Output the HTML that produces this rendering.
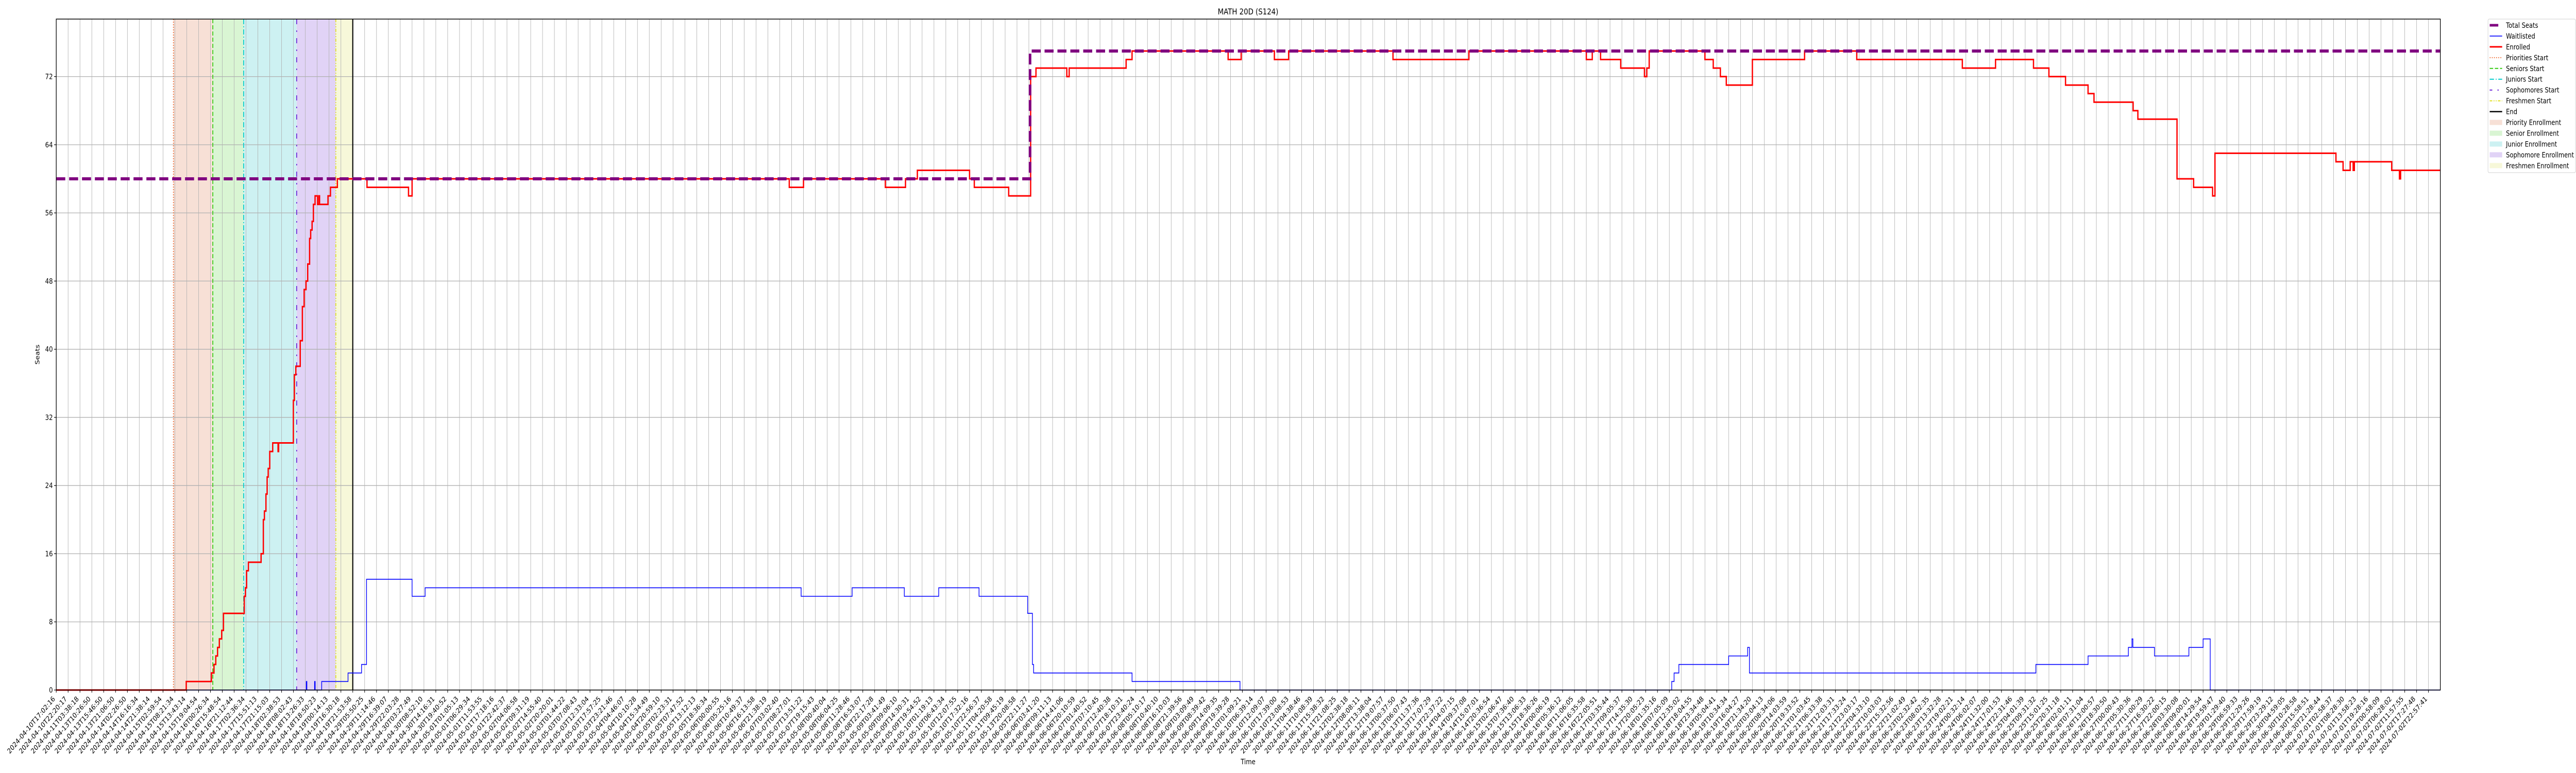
<!DOCTYPE html>
<html>
<head>
<meta charset="utf-8">
<style>
  html,body{margin:0;padding:0;background:#fff;width:100%;height:100%;overflow:hidden;}
  svg{display:block;position:absolute;left:0;top:0;width:100vw;height:100vh;overflow:hidden;}
  text{font-family:"DejaVu Sans","Liberation Sans",sans-serif;fill:#000;}
</style>
</head>
<body>
<svg id="chart" xmlns="http://www.w3.org/2000/svg" viewBox="0 0 6000 1500" preserveAspectRatio="none">
  <rect x="0" y="0" width="6000" height="1500" fill="#fff"/>
  <g id="spans"></g>
  <g id="grid"></g>
  <g id="vlines"></g>
  <g id="series"></g>
  <rect x="131" y="37" width="5553" height="1302" fill="none" stroke="#000" stroke-width="1.5"/>
  <g id="yticks"></g>
  <g id="xticks"></g>
  <text x="2907" y="28" font-size="16" text-anchor="middle">MATH 20D (S124)</text>
  <text x="0" y="0" font-size="14" text-anchor="middle" transform="translate(92,688) rotate(-90)">Seats</text>
  <text x="2907" y="1483" font-size="14" text-anchor="middle">Time</text>
  <g id="legend"></g>
</svg>
<script>
// ---------- data ----------
const yTicks = [0, 8, 16, 24, 32, 40, 48, 56, 64, 72];
const nTicks = 201;
const labelAnchorIdx = [0, 3, 7, 14, 17, 24, 26, 81, 82];
const labelAnchorTime = ['2024-04-10T17:02:16','2024-04-13T10:26:50','2024-04-14T16:16:34','2024-04-16T15:48:54','2024-04-17T15:51:13','2024-04-19T16:30:18','2024-04-29T05:50:25','2024-05-13T20:08:58','2024-06-05T22:11:27'];
const labelAnchorStep = [19081, 19200, 19300, 19430, 19430, 19420, 19461, 19461, 19793];

const seatsX = [0, 82.1];
const seatsV = [60, 75];

const enrolledX = [0,10.96,13.08,13.3,13.45,13.6,13.75,13.95,14.1,15.85,15.95,16.05,16.2,17.27,17.46,17.55,17.68,17.78,17.87,18.0,18.25,18.7,18.75,19.99,20.08,20.2,20.57,20.75,20.9,21.06,21.2,21.36,21.45,21.57,21.68,21.82,22.03,22.15,22.2,22.91,23.12,23.7,26.2,29.7,30.0,61.8,63,69.9,71.6,72.6,77.0,77.4,80.3,82.15,82.6,85.2,85.4,90.2,90.7,98.8,99.9,102.7,103.9,112.7,119.1,129,129.5,130.2,131.9,133.9,134.1,134.3,139,139.7,140.3,140.8,143,147.4,151.8,160.7,163.5,166.7,168,169.4,171.3,171.8,175.1,175.5,178.8,180.2,181.8,182,192.2,192.8,193.4,193.65,193.75,196.9,197.55,197.65];
const enrolledV = [0,1,2,3,4,5,6,7,9,11,12,14,15,16,20,21,23,25,26,28,29,28,29,34,37,38,41,45,47,48,50,53,54,55,57,58,57,58,57,58,59,60,59,58,60,59,60,59,60,61,60,59,58,72,73,72,73,74,75,74,75,74,75,74,75,74,75,74,73,72,73,75,74,73,72,71,74,75,74,73,74,73,72,71,70,69,68,67,60,59,58,63,62,61,62,61,62,61,60,61];

const waitX = [0,21.08,21.13,21.78,21.83,22.38,24.6,25.74,26.16,30.0,31.1,62.8,67.1,71.5,74.4,77.8,81.9,82.3,82.4,90.7,99.8,136.2,136.4,136.8,141,142.6,142.75,166.9,171.3,174.7,175.0,175.08,176.9,179.8,181,181.6];
const waitV = [0,1,0,1,0,1,2,3,13,11,12,11,12,11,12,11,9,3,2,1,0,1,2,3,4,5,2,3,4,5,6,5,4,5,6,0];

const spanStart = [9.88, 13.2, 15.8, 20.27, 23.57];
const spanEnd = [13.2, 15.8, 20.27, 23.57, 25.0];
const lineIdx = [9.88, 13.2, 15.8, 20.27, 23.57, 25.0];

// ---------- layout / styles ----------
const L = 131, R = 5684, T = 37, B = 1339;
const xMax = 201, yMax = 78.75;
const X = i => L + i * (R - L) / xMax;
const Y = v => B - v * (B - T) / yMax;
const NS = 'http://www.w3.org/2000/svg';
function mk(tag, parent, attrs) {
  const e = document.createElementNS(NS, tag);
  for (const k in attrs) e.setAttribute(k, attrs[k]);
  parent.appendChild(e);
  return e;
}
const spanFill = ['#f7e0d6','#d9f5d3','#cdf1f2','#e1d3f6','#f7f8d9'];
const spanNames = ['priority-enrollment-span','senior-enrollment-span','junior-enrollment-span','sophomore-enrollment-span','freshmen-enrollment-span'];
const lineColor = ['#f0703a','#33cc11','#00cccc','#6a22d8','#e0e020','#000'];
const lineDash = ['2,3','8,4','10,4,2,4','10,12,3,12','6,3,2,3,2,3',''];
const lineWidth = [2,2,2,2,2,2.5];
const lineNames = ['priorities-start-line','seniors-start-line','juniors-start-line','sophomores-start-line','freshmen-start-line','end-line'];

const gSpans = document.getElementById('spans');
for (let k = 0; k < spanStart.length; k++) {
  const r = mk('rect', gSpans, {x: X(spanStart[k]), y: T, width: X(spanEnd[k]) - X(spanStart[k]), height: B - T, fill: spanFill[k]});
  
  
}

const gGrid = document.getElementById('grid');
for (let i = 0; i < nTicks; i++) {
  const g = mk('line', gGrid, {x1: X(i), x2: X(i), y1: T, y2: B, stroke: '#b0b0b0', 'stroke-width': 1});
  
  
}
yTicks.forEach(v => {
  const g = mk('line', gGrid, {x1: L, x2: R, y1: Y(v), y2: Y(v), stroke: '#b0b0b0', 'stroke-width': 1.3});
  
  
});

const gV = document.getElementById('vlines');
for (let k = 0; k < lineIdx.length; k++) {
  const a = {x1: X(lineIdx[k]), x2: X(lineIdx[k]), y1: T, y2: B, stroke: lineColor[k], 'stroke-width': lineWidth[k]};
  if (lineDash[k]) a['stroke-dasharray'] = lineDash[k];
  const l = mk('line', gV, a);
  
  
}

function stepPath(xs, vs) {
  let d = 'M' + X(xs[0]).toFixed(2) + ',' + Y(vs[0]).toFixed(2);
  for (let k = 1; k < xs.length; k++) {
    d += ' H' + X(xs[k]).toFixed(2) + ' V' + Y(vs[k]).toFixed(2);
  }
  d += ' H' + X(xMax).toFixed(2);
  return d;
}
const gS = document.getElementById('series');
const pw = mk('path', gS, {d: stepPath(waitX, waitV), fill: 'none', stroke: '#0000ff', 'stroke-width': 1.6});


const pe = mk('path', gS, {d: stepPath(enrolledX, enrolledV), fill: 'none', stroke: '#ff0000', 'stroke-width': 3});


const ps = mk('path', gS, {d: stepPath(seatsX, seatsV), fill: 'none', stroke: '#800080', 'stroke-width': 6, 'stroke-dasharray': '21,9'});



const gY = document.getElementById('yticks');
yTicks.forEach(v => {
  const t = mk('line', gY, {x1: L - 5, x2: L, y1: Y(v), y2: Y(v), stroke: '#000', 'stroke-width': 1.2});
  
  
  const tx = mk('text', gY, {x: L - 8, y: Y(v) + 5, 'font-size': 14, 'text-anchor': 'end'});
  tx.textContent = String(v);
  
  
});

const xLabels = [];
for (let i = 0; i < nTicks; i++) {
  let a = 0;
  for (let k = 0; k < labelAnchorIdx.length; k++) if (labelAnchorIdx[k] <= i) a = k;
  const base = Date.parse(labelAnchorTime[a] + 'Z');
  const t = new Date(base + (i - labelAnchorIdx[a]) * labelAnchorStep[a] * 1000);
  xLabels.push(t.toISOString().slice(0, 19));
}
const gX = document.getElementById('xticks');
for (let i = 0; i < nTicks; i++) {
  const t = mk('line', gX, {x1: X(i), x2: X(i), y1: B, y2: B + 5, stroke: '#000', 'stroke-width': 1.2});
  
  
  const bx = X(i) - 2, by = B + 18;
  const tx = mk('text', gX, {x: 0, y: 0, 'font-size': 13.8, 'text-anchor': 'end', transform: 'translate(' + bx.toFixed(2) + ',' + by + ') rotate(-45)'});
  tx.textContent = xLabels[i];
  
  
}

const gL = document.getElementById('legend');
const lb = mk('rect', gL, {x: 5795, y: 37, width: 204, height: 298, rx: 3, fill: '#fff', stroke: '#d0d0d0', 'stroke-width': 1});


const legLabels = ['Total Seats','Waitlisted','Enrolled','Priorities Start','Seniors Start','Juniors Start','Sophomores Start','Freshmen Start','End','Priority Enrollment','Senior Enrollment','Junior Enrollment','Sophomore Enrollment','Freshmen Enrollment'];
const legColor = ['#800080','#0000ff','#ff0000','#f0703a','#33cc11','#00cccc','#6a22d8','#e0e020','#000','#f7e0d6','#d9f5d3','#cdf1f2','#e1d3f6','#f7f8d9'];
const legDash = ['20,9','','','2,3','8,4','10,4,2,4','6,12,3,12','6,3,2,3,2,3','','','','','',''];
const legWidth = [5,1.6,3,2,2,2,2,2,2.5,0,0,0,0,0];
for (let k = 0; k < legLabels.length; k++) {
  const cy = 49 + k * 20.95;
  if (k < 9) {
    const a = {x1: 5799, x2: 5828, y1: cy, y2: cy, stroke: legColor[k], 'stroke-width': legWidth[k]};
    if (legDash[k]) a['stroke-dasharray'] = legDash[k];
    const h = mk('line', gL, a);
    
    
  } else {
    const h = mk('rect', gL, {x: 5799, y: cy - 5, width: 29, height: 10, fill: legColor[k]});
    
    
  }
  const tx = mk('text', gL, {x: 5837, y: cy + 5, 'font-size': 13.8});
  tx.textContent = legLabels[k];
  
  
}
</script>
</body>
</html>
